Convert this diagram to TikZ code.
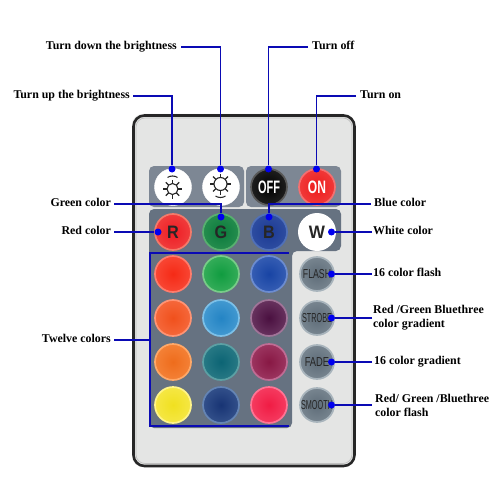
\documentclass[tikz,border=0pt]{standalone}
\usepackage{fontspec}
\usepackage{graphicx}
\setmainfont{Liberation Serif}
\newfontfamily\btnfont{Liberation Sans}
\definecolor{wire}{HTML}{0A0AB4}
\definecolor{dotblue}{HTML}{0000EE}
\definecolor{panel}{HTML}{667281}
\definecolor{body}{HTML}{E4E5E4}
\newcommand{\btn}[7]{%
  \definecolor{btnrim}{HTML}{#4}\definecolor{btncore}{HTML}{#5}%
  \node[btnbase,shade,inner color=btncore,middle color=btncore,outer color=btncore!65!btnrim,minimum size=#7*2pt-2pt,draw=btnrim,line width=1.7pt] (#1) at (#2,#3) {#6};}
\tikzset{
  lbl/.style={font=\bfseries\fontsize{11.9}{14}\selectfont,inner sep=0pt,text height=7.5pt,text depth=2.5pt,text=black},
  lblm/.style={font=\bfseries\fontsize{11.9}{14}\selectfont,inner sep=0pt,align=left,text=black},
  btnbase/.style={circle,inner sep=0pt},
  wirel/.style={draw=wire,line width=1.4pt},
  pin/.style={circle,fill=dotblue,inner sep=0pt,minimum size=7pt},
  blk/.style={font=\btnfont\bfseries\fontsize{18}{18}\selectfont,text=black!85},
  wht/.style={font=\btnfont\bfseries\fontsize{18}{18}\selectfont,text=white},
  gry/.style={font=\btnfont\fontsize{13}{13}\selectfont,text=black!85},
  sunray/.style={draw=black!85,line width=1.1pt}
}
\begin{document}
\begin{tikzpicture}[x=1pt,y=-1pt]
\useasboundingbox[fill=white] (0,0) rectangle (500,500);
% remote body
\fill[body,rounded corners=11pt] (132,114) rectangle (355,467);
\draw[black!85,line width=2.6pt,rounded corners=11pt] (133.5,115.5) rectangle (354.5,466);
\draw[black!25,line width=.7pt,rounded corners=9pt] (136,118) rectangle (352,463.5);
% panels
\fill[panel!85!white,rounded corners=5pt] (149,166) rectangle (244,207);
\fill[panel!85!white,rounded corners=5pt] (246,166) rectangle (341,207);
\fill[panel,rounded corners=5pt] (149,209) -- (341,209) -- (341,251) -- (292,251) -- (292,428) -- (149,428) -- cycle;
% first row
\node[btnbase,fill=white,draw=white,minimum size=37pt] (up) at (173,187) {};
\node[btnbase,fill=white,draw=white,minimum size=37pt] (down) at (221,187) {};
\foreach \a in {0,45,...,315} {
  \draw[sunray] ([shift={(\a:5.5pt)}]172.5,189) -- ([shift={(\a:9.5pt)}]172.5,189);
  \draw[sunray] ([shift={(\a:6.5pt)}]220.5,184) -- ([shift={(\a:10.5pt)}]220.5,184);
}
\draw[sunray] (172.5,189) circle (5.5pt);
\draw[sunray] (220.5,184) circle (6.5pt);
\draw[sunray] (167.5,177.5) .. controls (170,175.5) and (175,175.5) .. (177.5,177.5);
\draw[sunray] (215.5,196) .. controls (218,198) and (223,198) .. (225.5,196);
\btn{off}{269}{187}{595959}{000000}{}{19}
\btn{on}{317}{187}{F47070}{EE1C1C}{}{19}
\node[wht] at (off) {\scalebox{.61}[1]{OFF}};
\node[wht] at (on) {\scalebox{.67}[1]{ON}};
% second row
\btn{r}{173}{232}{F47A6A}{EE1C24}{}{19}
\btn{g}{221}{232}{58B070}{0A7A3C}{}{19}
\btn{b}{269}{232}{5070B8}{1C3A94}{}{19}
\node[btnbase,fill=white,minimum size=38pt] (w) at (317,232) {};
\node[blk] at (r) {\scalebox{.9}[1]{R}};
\node[blk] at (g) {\scalebox{.9}[1]{G}};
\node[blk] at (b) {\scalebox{.9}[1]{B}};
\node[blk] at (w) {\scalebox{.95}[1]{W}};
% twelve colours
\btn{c11}{173}{274}{FF7C6C}{F52A16}{}{19}
\btn{c12}{221}{274}{78CC88}{109C40}{}{19}
\btn{c13}{269}{274}{6C8CD0}{1844A4}{}{19}
\btn{c21}{173}{318}{FF9474}{F0501C}{}{19}
\btn{c22}{221}{318}{7CC0E8}{2484C4}{}{19}
\btn{c23}{269}{318}{A07498}{4A1040}{}{19}
\btn{c31}{173}{362}{FFA868}{EE6C1C}{}{19}
\btn{c32}{221}{362}{5CA0A4}{0C6474}{}{19}
\btn{c33}{269}{362}{C06C94}{881844}{}{19}
\btn{c41}{173}{405}{FFF488}{F0E020}{}{19}
\btn{c42}{221}{405}{6484B4}{183474}{}{19}
\btn{c43}{269}{405}{FF7494}{F01C44}{}{19}
% function column
\btn{fl}{317}{274}{A8B4BC}{5E6C78}{}{18}
\btn{st}{317}{318}{A8B4BC}{5E6C78}{}{18}
\btn{fa}{317}{362}{A8B4BC}{5E6C78}{}{18}
\btn{sm}{317}{405}{A8B4BC}{5E6C78}{}{18}
\node[gry] at (fl) {\scalebox{.67}[1]{FLASH}};
\node[gry] at (st) {\scalebox{.56}[1]{STROBE}};
\node[gry] at (fa) {\scalebox{.72}[1]{FADE}};
\node[gry] at (sm) {\scalebox{.56}[1]{SMOOTH}};
% labels
\node[lbl,anchor=east] (ldown) at (177,47) {Turn down the brightness};
\node[lbl,anchor=east] (lup) at (130,96) {Turn up the brightness};
\node[lbl,anchor=west] (loff) at (312,47) {Turn off};
\node[lbl,anchor=west] (lon) at (360,96) {Turn on};
\node[lbl,anchor=east] (lgreen) at (111,204) {Green color};
\node[lbl,anchor=east] (lred) at (111,232) {Red color};
\node[lbl,anchor=east] (ltw) at (111,340) {Twelve colors};
\node[lbl,anchor=west] (lblue) at (374,204) {Blue color};
\node[lbl,anchor=west] (lwhite) at (373,232) {White color};
\node[lbl,anchor=west] (lflash) at (373,274) {16 color flash};
\node[lblm,anchor=west] (lgrad) at (373,318) {Red /Green Bluethree\\color gradient};
\node[lbl,anchor=west] (lfade) at (374,362) {16 color gradient};
\node[lblm,anchor=west] (lsm) at (375,405) {Red/ Green /Bluethree\\color flash};
% pins
\node[pin] (pup) at (172,169) {};
\node[pin] (pdown) at (220.5,169) {};
\node[pin] (poff) at (268.5,169) {};
\node[pin] (pon) at (316.5,169) {};
\node[pin] (pg) at (221,217) {};
\node[pin] (pb) at (269,217) {};
\node[pin] (pr) at (158,232) {};
\node[pin] (pw) at (331.5,232) {};
\node[pin] (pfl) at (331.5,274) {};
\node[pin] (pst) at (331.5,318) {};
\node[pin] (pfa) at (331.5,362) {};
\node[pin] (psm) at (331.5,405) {};
% connectors
\draw[wirel] ([xshift=4pt]ldown.east) -| (pdown);
\draw[wirel] ([xshift=3pt]lup.east) -| (pup);
\draw[wirel] ([xshift=-4pt]loff.west) -| (poff);
\draw[wirel] ([xshift=-4pt]lon.west) -| (pon);
\draw[wirel] ([xshift=3pt]lgreen.east) -| (pg);
\draw[wirel] ([xshift=-3pt]lblue.west) -| (pb);
\draw[wirel] ([xshift=3pt]lred.east) -- (pr);
\draw[wirel] ([xshift=-1pt]lwhite.west) -- (pw);
\draw[wirel] ([xshift=-1pt]lflash.west) -- (pfl);
\draw[wirel] ([xshift=-1pt]lgrad.west) -- (pst);
\draw[wirel] ([xshift=-2pt]lfade.west) -- (pfa);
\draw[wirel] ([xshift=-3pt]lsm.west) -- (psm);
\coordinate (brtr) at (289,253);
\coordinate (brtl) at (150,253);
\coordinate (brbl) at (150,426);
\coordinate (brbr) at (289,426);
\coordinate (brm) at (150,340);
\draw[wirel] (brtr) -- (brtl) -- (brbl) -- (brbr);
\draw[wirel] ([xshift=3pt]ltw.east) -- (brm);
\end{tikzpicture}
\end{document}
